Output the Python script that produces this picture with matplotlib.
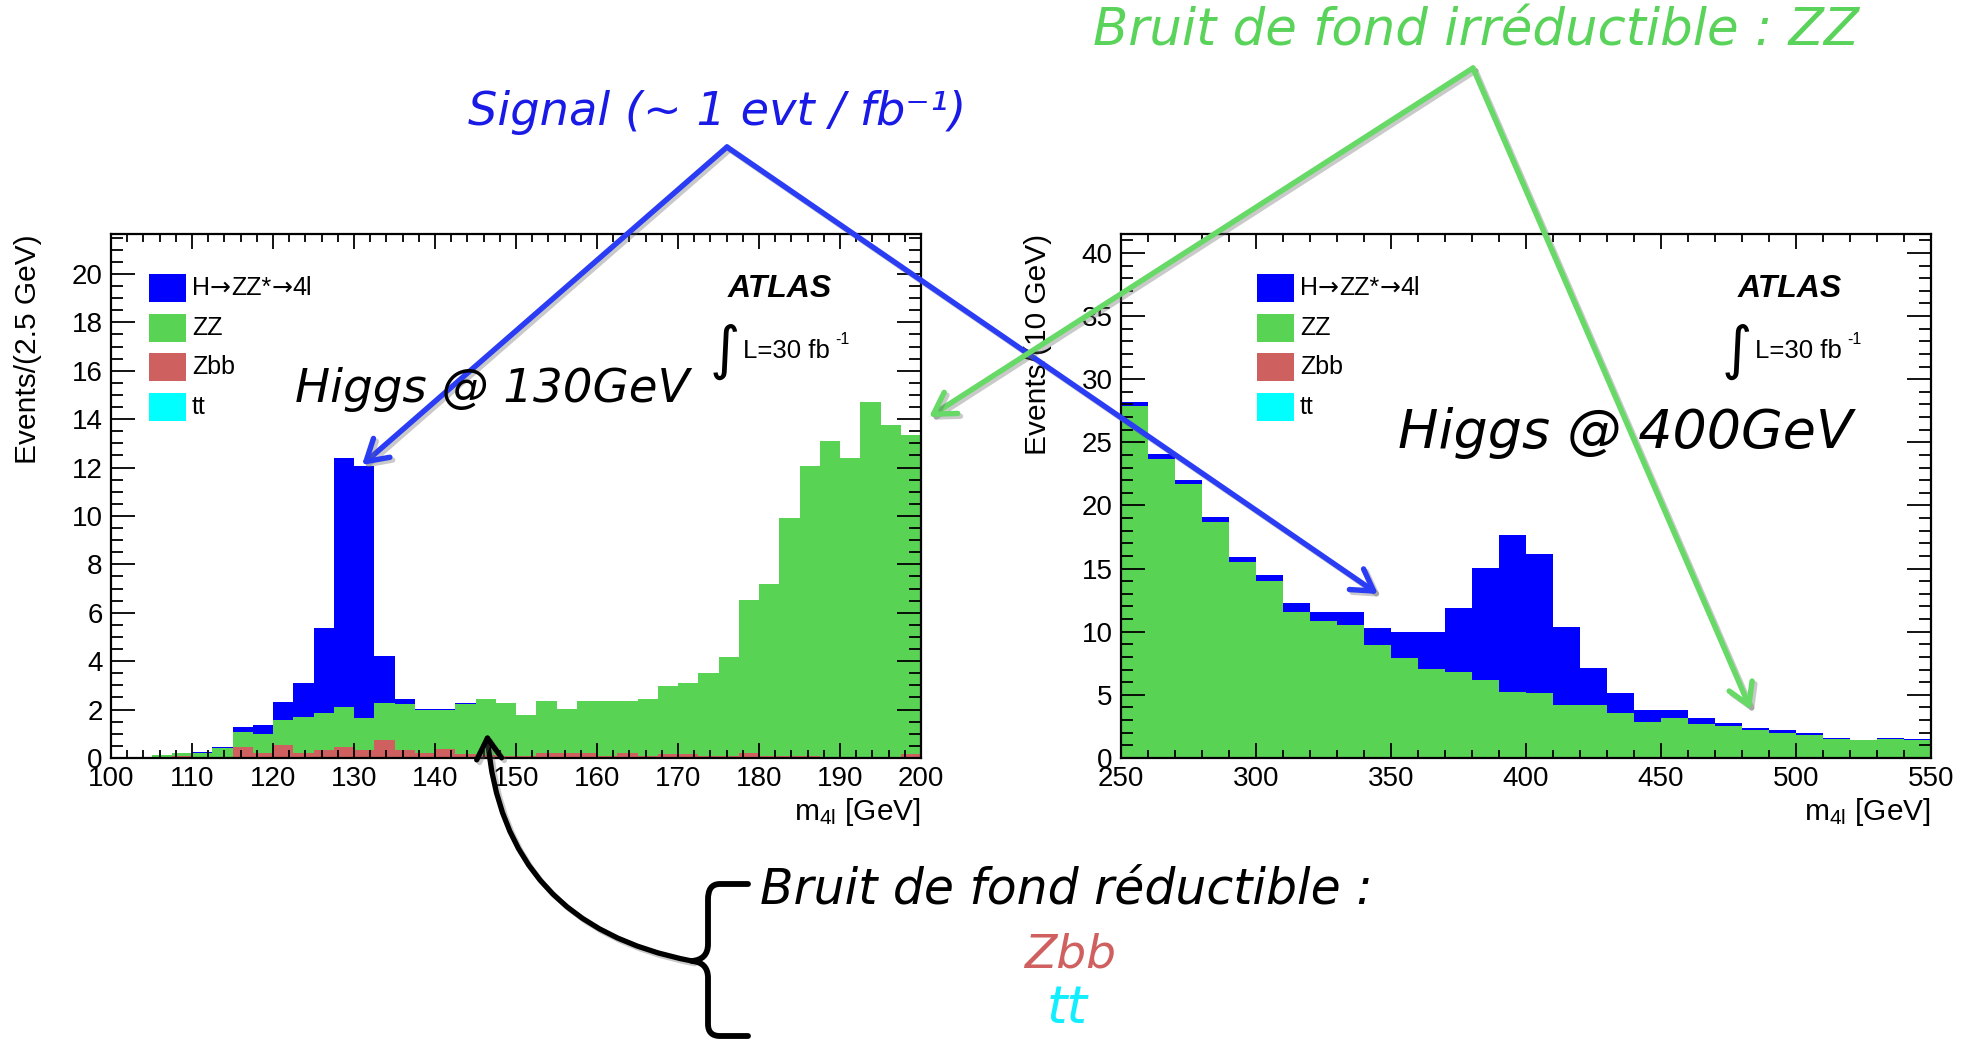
import numpy as np
import matplotlib
matplotlib.use("Agg")
import matplotlib.pyplot as plt
import matplotlib.patheffects as pe
from matplotlib.patches import FancyArrowPatch, Rectangle, PathPatch
from matplotlib.path import Path
from matplotlib.ticker import MultipleLocator

# ---------------- m_H = 130 GeV : 2.5 GeV bins, 100-200 GeV ----------------
low_edges = np.linspace(100, 200, 41)
low_zbb = [0.00, 0.00, 0.03, 0.08, 0.05, 0.05, 0.44, 0.20, 0.52, 0.20,
           0.32, 0.44, 0.32, 0.73, 0.32, 0.20, 0.36, 0.17, 0.12, 0.08,
           0.08, 0.19, 0.19, 0.19, 0.08, 0.19, 0.08, 0.17, 0.17, 0.08,
           0.08, 0.19, 0.08, 0.08, 0.08, 0.05, 0.03, 0.03, 0.03, 0.15]
low_tt = [0.0] * 40
low_zz = [0.00, 0.00, 0.08, 0.12, 0.15, 0.38, 0.62, 0.79, 1.05, 1.49,
          1.54, 1.67, 1.33, 1.54, 1.91, 1.80, 1.64, 2.08, 2.30, 2.18,
          1.70, 2.15, 1.82, 2.15, 2.26, 2.15, 2.34, 2.81, 2.92, 3.42,
          4.09, 6.32, 7.11, 9.84, 11.99, 13.04, 12.37, 14.67, 13.73, 13.20]
low_higgs = [0.00, 0.00, 0.00, 0.00, 0.04, 0.02, 0.21, 0.36, 0.73, 1.40,
             3.50, 10.27, 10.40, 1.93, 0.19, 0.02, 0.02, 0.02, 0.00, 0.00,
             0.00, 0.00, 0.00, 0.00, 0.00, 0.00, 0.00, 0.00, 0.00, 0.00,
             0.00, 0.00, 0.00, 0.00, 0.00, 0.00, 0.00, 0.00, 0.00, 0.00]
low_xticks = [100, 110, 120, 130, 140, 150, 160, 170, 180, 190, 200]
low_yticks = [0, 2, 4, 6, 8, 10, 12, 14, 16, 18, 20]

# ---------------- m_H = 400 GeV : 10 GeV bins, 250-550 GeV ----------------
high_edges = np.linspace(250, 550, 31)
high_zbb = [0.0] * 30
high_tt = [0.0] * 30
high_zz = [27.85, 23.70, 21.67, 18.67, 15.50, 14.02, 11.56, 10.85, 10.51, 8.92,
           7.93, 7.03, 6.80, 6.15, 5.24, 5.13, 4.16, 4.16, 3.54, 2.89,
           3.20, 2.69, 2.52, 2.18, 2.01, 1.84, 1.50, 1.39, 1.50, 1.44]
high_higgs = [0.35, 0.38, 0.33, 0.40, 0.39, 0.46, 0.71, 0.68, 1.02, 1.36,
              2.07, 2.97, 5.07, 8.89, 12.46, 10.99, 6.18, 2.95, 1.64, 0.93,
              0.62, 0.45, 0.28, 0.23, 0.17, 0.17, 0.11, 0.05, 0.11, 0.06]
high_xticks = [250, 300, 350, 400, 450, 500, 550]
high_yticks = [0, 5, 10, 15, 20, 25, 30, 35, 40]

legend_labels = ["H→ZZ*→4l", "ZZ", "Zbb", "tt"]
c_higgs, c_zz, c_zbb, c_tt = "#0000ff", "#59d354", "#cf6060", "#00ffff"

plt.rcParams["font.family"] = ["Liberation Sans", "DejaVu Sans"]
plt.rcParams["mathtext.fontset"] = "custom"
plt.rcParams["mathtext.rm"] = "Liberation Sans"
plt.rcParams["mathtext.it"] = "Liberation Sans:italic"
plt.rcParams["mathtext.sf"] = "Liberation Sans"

W, H = 1982, 1040
fig = plt.figure(figsize=(W / 100, H / 100), dpi=100)


def px_axes(x0, y0, x1, y1):
    return fig.add_axes([x0 / W, 1 - y1 / H, (x1 - x0) / W, (y1 - y0) / H])


def draw_stack(ax, edges, layers, colors):
    base = np.zeros(len(edges) - 1)
    for vals, col in zip(layers, colors):
        top = base + np.asarray(vals, float)
        ax.stairs(top, edges, baseline=base, fill=True, color=col, linewidth=0)
        base = top


def style(ax, xlim, ylim, xticks, yticks, xminor, yminor, ylabel):
    ax.set_xlim(*xlim)
    ax.set_ylim(*ylim)
    ax.set_xticks(xticks)
    ax.set_yticks(yticks)
    ax.xaxis.set_minor_locator(MultipleLocator(xminor))
    ax.yaxis.set_minor_locator(MultipleLocator(yminor))
    ax.tick_params(which="both", direction="in", top=True, right=True,
                   labelsize=20, width=1.3, pad=6)
    ax.tick_params(axis="y", which="major", length=17)
    ax.tick_params(axis="y", which="minor", length=8.6)
    ax.tick_params(axis="x", which="major", length=11)
    ax.tick_params(axis="x", which="minor", length=5.8)
    for sp in ax.spines.values():
        sp.set_linewidth(1.6)
    ax.set_ylabel(ylabel, fontsize=21.5, loc="top")
    ax.yaxis.set_label_coords(-0.085, 1.0)
    ax.set_xlabel(r"m$_{\rm 4l}$ [GeV]", fontsize=21.5, loc="right")
    ax.xaxis.set_label_coords(1.0, -0.072)


ax1 = px_axes(111, 234, 921, 758)
draw_stack(ax1, low_edges, [low_zbb, low_tt, low_zz, low_higgs],
           [c_zbb, c_tt, c_zz, c_higgs])
style(ax1, (100, 200), (0, 21.65), low_xticks, low_yticks, 2, 0.5,
      "Events/(2.5 GeV)")

ax2 = px_axes(1121, 234, 1931, 758)
draw_stack(ax2, high_edges, [high_zbb, high_tt, high_zz, high_higgs],
           [c_zbb, c_tt, c_zz, c_higgs])
style(ax2, (250, 550), (0, 41.5), high_xticks, high_yticks, 10, 1,
      "Events/(10 GeV)")

# ---------------- overlay in pixel coordinates ----------------
ov = fig.add_axes([0, 0, 1, 1], zorder=10)
ov.set_xlim(0, W)
ov.set_ylim(H, 0)
ov.axis("off")
renderer = fig.canvas.get_renderer()


def label_run(x, y, s, fontsize):
    """Write s left to right; arrows use DejaVu Sans, the rest Liberation Sans."""
    pieces, cur = [], ""
    for ch in s:
        if ch == "→":
            if cur:
                pieces.append((cur, "Liberation Sans"))
            pieces.append((ch, "DejaVu Sans"))
            cur = ""
        else:
            cur += ch
    if cur:
        pieces.append((cur, "Liberation Sans"))
    for txt, fam in pieces:
        t = ov.text(x, y, txt, fontsize=fontsize, family=fam,
                    va="center", ha="left")
        x += t.get_window_extent(renderer=renderer).width


# legends, ATLAS tag and luminosity
for lx in (149, 1257):
    for i, (lab, col) in enumerate(zip(legend_labels, [c_higgs, c_zz, c_zbb, c_tt])):
        yc = 288 + 39.7 * i
        ov.add_patch(Rectangle((lx, yc - 14), 37, 28, color=col, lw=0))
        label_run(lx + 43, yc, lab, 18)
for cx, ix in ((780, 725), (1790, 1737)):
    ov.text(cx, 289, "ATLAS", fontsize=23, weight="bold", style="italic",
            ha="center", va="center")
    ov.text(ix, 352, "∫", fontsize=42, family="DejaVu Sans",
            ha="center", va="center")
    ov.text(ix + 18, 357.5, "L=30 fb", fontsize=18.5, ha="left", va="baseline")
    ov.text(ix + 110, 344, "-1", fontsize=11.5, ha="left", va="baseline")


def hand(x, y, s, width_px, color):
    t = ov.text(x, y, s, fontsize=20, family="DejaVu Sans", style="oblique",
                color=color, ha="left", va="baseline")
    w = t.get_window_extent(renderer=renderer).width
    t.set_fontsize(20 * width_px / w)
    return t


blue_ink, green_ink = "#1a1ae6", "#5ad35a"
hand(468, 125, "Signal (~ 1 evt / fb⁻¹)", 499, blue_ink)
hand(1093, 45, "Bruit de fond irréductible : ZZ", 767, green_ink)
hand(295, 402, "Higgs @ 130GeV", 395, "black")
hand(1398, 448, "Higgs @ 400GeV", 455, "black")
hand(760, 903, "Bruit de fond réductible :", 613, "black")
hand(1024, 967, "Zbb", 92, "#d06060")
hand(1047, 1023, "tt", 41, "#10eeff")

shadow = [pe.SimpleLineShadow(offset=(2, -2), shadow_color="0.4", alpha=0.35),
          pe.Normal()]


def arrow(p0, p1, color, lw=3.9, conn="arc3,rad=0"):
    a = FancyArrowPatch(p0, p1, arrowstyle="->,head_length=15,head_width=9",
                        connectionstyle=conn, color=color, lw=lw,
                        shrinkA=0, shrinkB=0, capstyle="round",
                        joinstyle="round", path_effects=shadow)
    ov.add_patch(a)


arrow_blue, arrow_green = "#2a3df5", "#66d966"
arrow((727, 147), (362, 465), arrow_blue)
arrow((727, 147), (1378, 594), arrow_blue)
arrow((1473, 68), (929, 417), arrow_green)
arrow((1473, 68), (1751, 710), arrow_green)
arrow((692, 961), (487, 733), "black", lw=3.8, conn="arc3,rad=-0.38")

# curly brace
brace = Path([(748, 884), (720, 884), (711, 884), (708, 890), (708, 900),
              (708, 944), (708, 955), (702, 960), (692, 961),
              (702, 962), (708, 967), (708, 978),
              (708, 1024), (708, 1032), (712, 1036), (720, 1036), (748, 1036)],
             [Path.MOVETO, Path.LINETO, Path.CURVE4, Path.CURVE4, Path.CURVE4,
              Path.LINETO, Path.CURVE4, Path.CURVE4, Path.CURVE4,
              Path.CURVE4, Path.CURVE4, Path.CURVE4,
              Path.LINETO, Path.CURVE4, Path.CURVE4, Path.CURVE4, Path.LINETO])
ov.add_patch(PathPatch(brace, fill=False, lw=4.2, color="black",
                       capstyle="round", joinstyle="round"))

fig.savefig("out.png", dpi=100)
